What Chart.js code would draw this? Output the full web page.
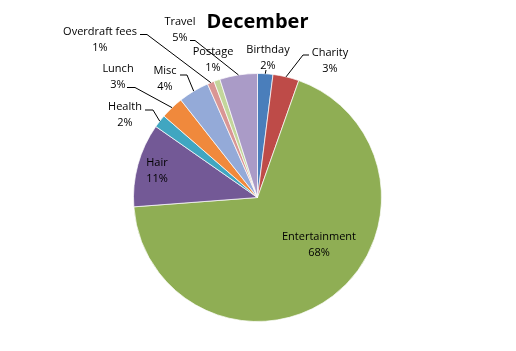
<!DOCTYPE html>
<html>
<head>
<meta charset="utf-8">
<script src="https://cdn.jsdelivr.net/npm/chart.js@4/dist/chart.umd.min.js"></script>
<style>
html,body{margin:0;padding:0;background:#fff;}
#c{display:block;}
</style>
</head>
<body>
<canvas id="c" width="516" height="351"></canvas>
<script>
const categories = ["Birthday","Charity","Entertainment","Hair","Health","Lunch","Misc","Overdraft fees","Postage","Travel"];
const values = [2.0, 3.4, 68.4, 10.9, 1.7, 3.0, 4.0, 0.9, 0.8, 4.9];
const colors = ["#4A7EBB","#BE4B48","#8FAE54","#735996","#40A6C1","#F0893C","#94AAD8","#D99694","#C3D69B","#AA9BC7"];
const chartTitle = "December";

// label layout: text centre (x,y) of first line, optional leader elbow (lx->hx at ly)
const labelLayout = [
  {x:268, y:50,  leader:{lx:266, ly:70, hx:266}},
  {x:330, y:52.5, leader:{lx:309, ly:55, hx:303}},
  {x:319, y:236.5},
  {x:157, y:163},
  {x:125, y:107, leader:{lx:145, ly:110, hx:153}},
  {x:118, y:69,  leader:{lx:127, ly:87.5, hx:135}},
  {x:165, y:71,  leader:{lx:180, ly:75, hx:187}},
  {x:100, y:32,  leader:{lx:140, ly:34.5, hx:147}},
  {x:213, y:51.5},
  {x:180, y:21.5, leader:{lx:190, ly:40.5, hx:195}}
];
const lineGap = 16;

const labelPlugin = {
  id: 'excelLabels',
  afterDatasetsDraw(chart) {
    const ctx = chart.ctx;
    const meta = chart.getDatasetMeta(0);
    const data = chart.data.datasets[0].data;
    const total = data.reduce((a,b)=>a+b,0);
    ctx.save();
    ctx.font = '11px "Open Sans"';
    ctx.fillStyle = '#000';
    ctx.textAlign = 'center';
    ctx.textBaseline = 'middle';
    meta.data.forEach((arc, i) => {
      const p = arc.getProps(['x','y','startAngle','endAngle','outerRadius'], true);
      const lay = labelLayout[i];
      const pct = Math.round(data[i] / total * 100) + '%';
      ctx.fillText(chart.data.labels[i], lay.x, lay.y);
      ctx.fillText(pct, lay.x, lay.y + lineGap);
      if (lay.leader) {
        const mid = (p.startAngle + p.endAngle) / 2;
        const ex = p.x + Math.cos(mid) * p.outerRadius;
        const ey = p.y + Math.sin(mid) * p.outerRadius;
        ctx.strokeStyle = '#000';
        ctx.lineWidth = 1;
        ctx.beginPath();
        ctx.moveTo(lay.leader.lx, lay.leader.ly);
        ctx.lineTo(lay.leader.hx, lay.leader.ly);
        ctx.lineTo(ex, ey);
        ctx.stroke();
      }
    });
    ctx.restore();
  }
};

new Chart(document.getElementById('c'), {
  type: 'pie',
  data: {
    labels: categories,
    datasets: [{
      data: values,
      backgroundColor: colors,
      borderColor: 'rgba(255,255,255,0.7)',
      borderWidth: 1
    }]
  },
  options: {
    responsive: false,
    animation: false,
    layout: { padding: { top: 0, bottom: 29, left: 133, right: 134 } },
    plugins: {
      legend: { display: false },
      tooltip: { enabled: false },
      title: {
        display: true,
        text: chartTitle,
        color: '#000',
        font: { family: '"Open Sans"', size: 20, weight: 'bold', lineHeight: 1.2 },
        padding: { top: 10, bottom: 39 }
      }
    }
  },
  plugins: [labelPlugin]
});
</script>
</body>
</html>
